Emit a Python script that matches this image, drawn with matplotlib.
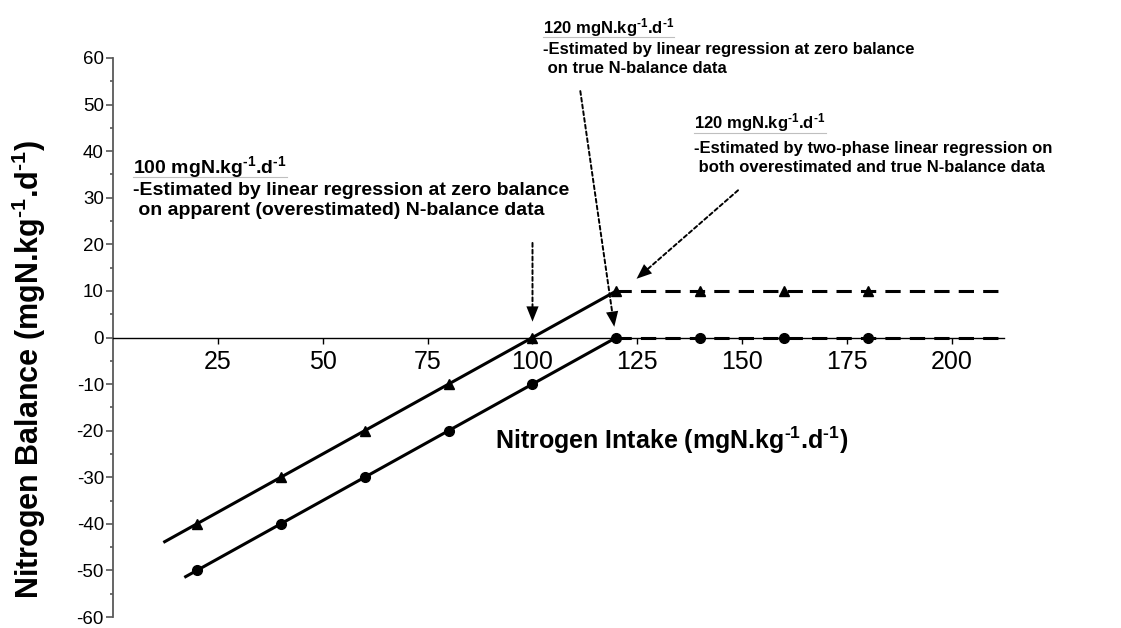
import numpy as np
import matplotlib
matplotlib.use("Agg")
import matplotlib.pyplot as plt

plt.rcParams['font.family'] = ['Liberation Sans', 'DejaVu Sans']
plt.rcParams['mathtext.fontset'] = 'custom'
plt.rcParams['mathtext.rm'] = 'Liberation Sans:bold'
plt.rcParams['mathtext.bf'] = 'Liberation Sans:bold'
plt.rcParams['mathtext.default'] = 'rm'
plt.rcParams['axes.unicode_minus'] = False

# data
intake = [20, 40, 60, 80, 100, 120, 140, 160, 180]
apparent = [-40, -30, -20, -10, 0, 10, 10, 10, 10]   # overestimated N-balance (triangles)
true_bal = [-50, -40, -30, -20, -10, 0, 0, 0, 0]     # true N-balance (circles)
breakpoint = 120
fit_start_apparent = 12
fit_start_true = 17
plateau_end = 212

x_ticks = [25, 50, 75, 100, 125, 150, 175, 200]
y_ticks = [-60, -50, -40, -30, -20, -10, 0, 10, 20, 30, 40, 50, 60]

unit = 'mgN.kg$^{\u20101}$.d$^{\u20101}$'
# text lines, x, baselines (heading first), font size, arrow start, arrow tip
notes = [
    (["100 " + unit,
      "-Estimated by linear regression at zero balance",
      " on apparent (overestimated) N-balance data"],
     4.8, [35.2, 30.5, 26.4], 14, (100, 20.3), (100, 3.4)),
    (["120 " + unit,
      "-Estimated by linear regression at zero balance",
      " on true N-balance data"],
     102.4, [65.3, 60.8, 56.7], 12, (111.4, 52.9), (119.5, 2.3)),
    (["120 " + unit,
      "-Estimated by two-phase linear regression on",
      " both overestimated and true N-balance data"],
     138.6, [44.8, 39.6, 35.6], 12, (149, 31.6), (124.8, 12.6)),
]


def fit_line(x, y, x0, x1):
    x = np.asarray(x)
    y = np.asarray(y)
    m = x <= breakpoint
    k, b = np.polyfit(x[m], y[m], 1)
    return [x0, x1], [k * x0 + b, k * x1 + b]


fig = plt.figure(figsize=(11.21, 6.28), dpi=100)
ax = fig.add_axes([113 / 1121, 11 / 628, 891 / 1121, 559 / 628])

for ys, x0, mk in [(apparent, fit_start_apparent, '^'), (true_bal, fit_start_true, 'o')]:
    lx, ly = fit_line(intake, ys, x0, breakpoint)
    ax.plot(lx, ly, color='black', lw=2.2, solid_capstyle='butt')
    plateau = ys[intake.index(breakpoint)]
    ax.plot([breakpoint, plateau_end], [plateau, plateau], color='black', lw=2.2,
            dashes=(5, 3))
    ax.plot(intake, ys, ls='none', marker=mk, ms=7, color='black')

ax.set_xlim(0, 212.4)
ax.set_ylim(-60, 60)
ax.spines['bottom'].set_position(('data', 0))
ax.spines['bottom'].set_linewidth(1.0)
ax.spines['left'].set_color('0.35')
ax.spines['left'].set_linewidth(1.3)
ax.spines['top'].set_visible(False)
ax.spines['right'].set_visible(False)

ax.set_xticks(x_ticks)
ax.set_yticks(y_ticks)
ax.set_yticks([v + 5 for v in y_ticks[:-1]], minor=True)
ax.tick_params(axis='x', labelsize=18, length=4, width=1, pad=5)
ax.tick_params(axis='y', which='major', labelsize=13.5, length=5, width=1.2, pad=1.5, color='0.35')
ax.tick_params(axis='y', which='minor', length=2.5, width=1.2, color='0.35')

ax.set_xlabel('Nitrogen Intake (' + unit + ')', fontsize=18, fontweight='bold')
ax.xaxis.set_label_coords(0.627, 0.345)
ax.set_ylabel('Nitrogen Balance (' + unit + ')', fontsize=22, fontweight='bold')
ax.yaxis.set_label_coords(-0.073, 0.443)

heads = []
for lines, tx, ys_txt, fs, start, tip in notes:
    for i, (line, ty) in enumerate(zip(lines, ys_txt)):
        t = ax.text(tx, ty, line, fontsize=fs, fontweight='bold', va='baseline', ha='left',
                    clip_on=False)
        if i == 0:
            heads.append(t)
    # dotted shaft
    ax.annotate('', xy=tip, xytext=start,
                arrowprops=dict(arrowstyle='-', lw=1.4, ls=(0, (2, 1.5)), color='black',
                                shrinkA=0, shrinkB=10),
                annotation_clip=False)
    # solid filled head
    ax.annotate('', xy=tip, xytext=start,
                arrowprops=dict(arrowstyle='-|>,head_length=0.55,head_width=0.22',
                                mutation_scale=20, lw=0, color='black',
                                shrinkA=0, shrinkB=0),
                annotation_clip=False)

# thin underline below each heading
fig.canvas.draw()
inv = ax.transData.inverted()
for h in heads:
    bb = h.get_window_extent()
    (x0, _), (x1, _) = inv.transform([(bb.x0, bb.y0), (bb.x1, bb.y0)])
    y = h.get_position()[1] - 0.8
    ax.plot([x0, x1], [y, y], color='0.75', lw=0.8, clip_on=False)

fig.savefig('out.png', dpi=100)
